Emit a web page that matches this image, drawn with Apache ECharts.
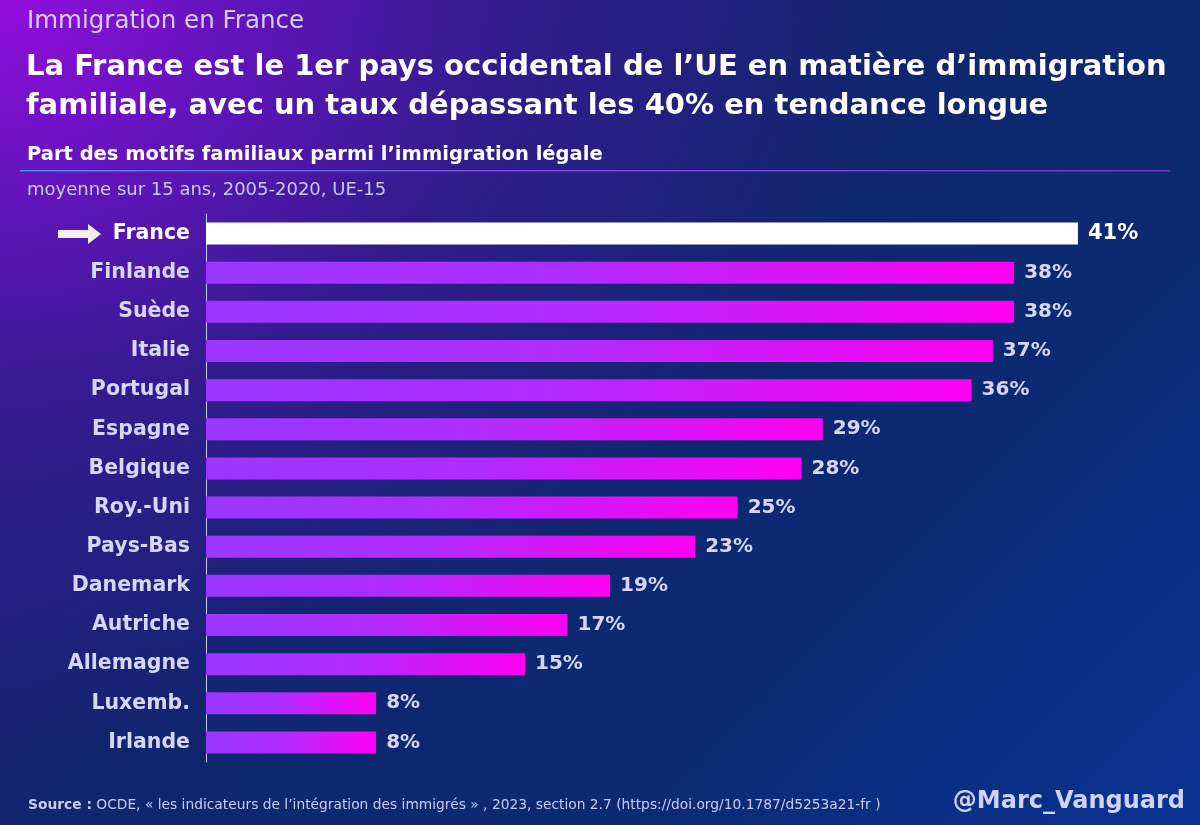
<!DOCTYPE html>
<html>
<head>
<meta charset="utf-8">
<script src="https://cdn.jsdelivr.net/npm/echarts@6/dist/echarts.min.js"></script>
<style>
html,body{margin:0;padding:0;width:1200px;height:825px;overflow:hidden;}
body{
  background:
    radial-gradient(ellipse 900px 750px at 0px 0px, rgba(146,14,220,1) 0%, rgba(110,18,200,0.85) 25%, rgba(65,24,155,0.6) 55%, rgba(30,30,120,0) 100%),
    linear-gradient(135deg, #2a1a86 0%, #10266e 45%, #0b2a72 70%, #0a3394 100%);
}
#chart{width:1200px;height:825px;}
</style>
</head>
<body>
<div id="chart"></div>
<script>
const countries = ['France','Finlande','Suède','Italie','Portugal','Espagne','Belgique','Roy.-Uni','Pays-Bas','Danemark','Autriche','Allemagne','Luxemb.','Irlande'];
const familyShare = [41,38,38,37,36,29,28,25,23,19,17,15,8,8];
const highlight = 'France';

const FONT = 'DejaVu Sans';
const chart = echarts.init(document.getElementById('chart'), null, {renderer:'canvas'});

const barGrad = new echarts.graphic.LinearGradient(0,0,1,0,[
  {offset:0,color:'#9a37ff'},
  {offset:0.45,color:'#b02cff'},
  {offset:1,color:'#ff00f2'}
]);

const data = familyShare.map((v,i)=>{
  const isHi = countries[i]===highlight;
  return {
    value:v,
    itemStyle:{color: isHi ? '#ffffff' : barGrad},
    label:{color: isHi ? '#ffffff' : '#d6d6f6', fontSize: isHi ? 21 : 20}
  };
});

chart.setOption({
  backgroundColor:'transparent',
  animation:false,
  grid:{left:206, top:214, height:548, right:37},
  xAxis:{type:'value', min:0, max:45, show:false},
  yAxis:{
    type:'category', data:countries, inverse:true,
    axisLine:{show:true, lineStyle:{color:'#c8c8f0', width:1}},
    axisTick:{show:false},
    axisLabel:{
      margin:16, fontFamily:FONT, fontWeight:'bold', fontSize:20.5,
      color:(val)=> val===highlight ? '#ffffff' : '#d6d6f6'
    }
  },
  series:[{
    type:'bar', data:data, barWidth:22,
    label:{show:true, position:'right', distance:10, formatter:'{c}%', fontFamily:FONT, fontWeight:'bold'}
  }],
  graphic:[
    {type:'text', left:27, top:9, style:{text:'Immigration en France', fontFamily:FONT, fontSize:24.5, fill:'#d9cdee'}},
    {type:'text', left:26, top:48, style:{text:'La France est le 1er pays occidental de l’UE en matière d’immigration\nfamiliale, avec un taux dépassant les 40% en tendance longue', fontFamily:FONT, fontWeight:'bold', fontSize:29, lineHeight:39, fill:'#ffffff'}},
    {type:'text', left:27, top:145, style:{text:'Part des motifs familiaux parmi l’immigration légale', fontFamily:FONT, fontWeight:'bold', fontSize:19.5, fill:'#ffffff'}},
    {type:'rect', shape:{x:20, y:170, width:1150, height:1.5}, style:{fill:new echarts.graphic.LinearGradient(0,0,1,0,[
      {offset:0,color:'#3d92e6'},{offset:0.4,color:'#7a4be0'},{offset:1,color:'#6a35c8'}])}},
    {type:'text', left:27, top:181, style:{text:'moyenne sur 15 ans, 2005-2020, UE-15', fontFamily:FONT, fontSize:18, fill:'#cbc8ee'}},
    {type:'polygon', shape:{points:[[58,230],[88,230],[88,224],[101,234],[88,244],[88,238],[58,238]]}, style:{fill:'#f0f0f4'}},
    {type:'text', left:28, top:798, style:{text:'{b|Source :} OCDE, « les indicateurs de l’intégration des immigrés » , 2023, section 2.7 (https://doi.org/10.1787/d5253a21-fr )',
      rich:{b:{fontFamily:FONT, fontWeight:'bold', fontSize:13.8, fill:'#c6ccf2'}}, fontFamily:FONT, fontSize:13.8, fill:'#c6ccf2'}},
    {type:'text', right:15, top:790, style:{text:'@Marc_Vanguard', fontFamily:FONT, fontWeight:'bold', fontSize:24, fill:'#cdd4f6'}}
  ]
});
</script>
</body>
</html>
